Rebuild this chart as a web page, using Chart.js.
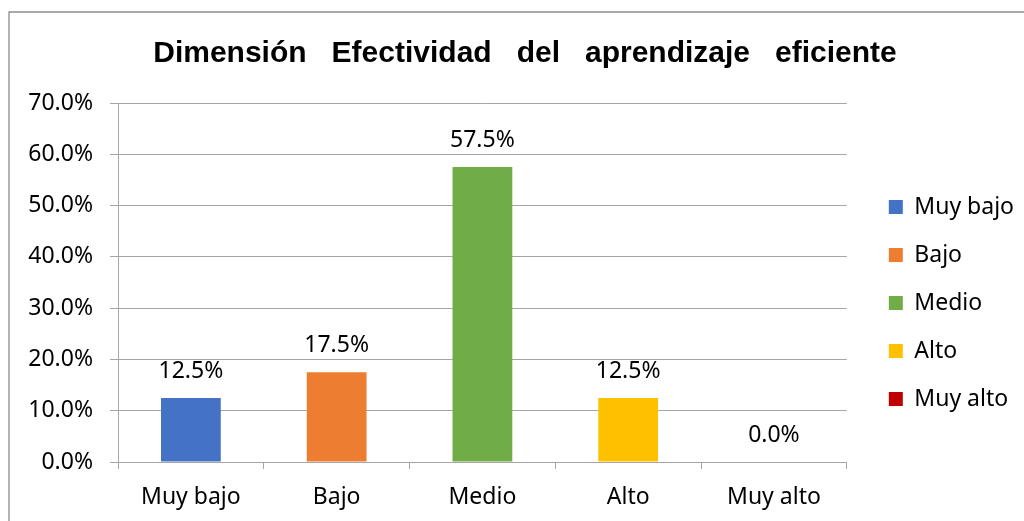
<!DOCTYPE html>
<html>
<head>
<meta charset="utf-8">
<script src="https://cdn.jsdelivr.net/npm/chart.js"></script>
<style>
  html, body { margin: 0; padding: 0; background: #fff; }
  #wrap { width: 1024px; height: 521px; position: relative; }
</style>
</head>
<body>
<div id="wrap"><canvas id="chart" width="1024" height="521"></canvas></div>
<script>
const titleText = 'Dimensión   Efectividad   del   aprendizaje   eficiente';
const categories = ['Muy bajo', 'Bajo', 'Medio', 'Alto', 'Muy alto'];
const values = [12.5, 17.5, 57.5, 12.5, 0.0];
const barColors = ['#4472C4', '#ED7D31', '#70AD47', '#FFC000', '#C00000'];
const yMin = 0;
const yMax = 70;
const yStep = 10;

const lineGray = '#a6a6a6';
const font = '"Noto Sans", sans-serif';

// frame + value labels over the bars
const frame = {
  id: 'frame',
  beforeDraw(chart) {
    const ctx = chart.ctx;
    ctx.save();
    ctx.fillStyle = '#fff';
    ctx.fillRect(0, 0, chart.width, chart.height);
    ctx.strokeStyle = '#8c8c8c';
    ctx.lineWidth = 1.3;
    ctx.beginPath();
    ctx.moveTo(9, chart.height);
    ctx.lineTo(9, 12);
    ctx.lineTo(chart.width, 12);
    ctx.stroke();
    ctx.restore();
  }
};

const valueLabels = {
  id: 'valueLabels',
  afterDatasetsDraw(chart) {
    const ctx = chart.ctx;
    const meta = chart.getDatasetMeta(0);
    ctx.save();
    ctx.font = '23px ' + font;
    ctx.fillStyle = '#000';
    ctx.textAlign = 'center';
    ctx.textBaseline = 'alphabetic';
    meta.data.forEach((bar, i) => {
      ctx.fillText(values[i].toFixed(1) + '%', bar.x, bar.y - 20);
    });
    ctx.restore();
  }
};

new Chart(document.getElementById('chart'), {
  type: 'bar',
  data: {
    labels: categories,
    datasets: [{
      data: values,
      backgroundColor: barColors,
      borderWidth: 0,
      categoryPercentage: 1,
      barPercentage: 0.41
    }]
  },
  options: {
    responsive: false,
    animation: false,
    devicePixelRatio: 1,
    layout: { padding: { left: 26, right: 0, top: 0, bottom: 9 } },
    plugins: {
      title: {
        display: true,
        text: titleText,
        color: '#000',
        font: { family: '"Liberation Sans", Arial, sans-serif', size: 30, weight: 'bold' },
        padding: { top: 36, bottom: 31 }
      },
      legend: {
        position: 'right',
        // empty legend title only pushes the items down
        title: { display: true, text: '', font: { size: 10 }, padding: { top: 82, bottom: 0 } },
        labels: {
          boxWidth: 14,
          boxHeight: 14,
          padding: 25,
          color: '#000',
          font: { family: font, size: 23 },
          generateLabels: () => categories.map((c, i) => ({
            text: c,
            fillStyle: barColors[i],
            strokeStyle: barColors[i],
            fontColor: '#000',
            lineWidth: 0,
            hidden: false,
            index: i
          }))
        }
      },
      tooltip: { enabled: false }
    },
    scales: {
      x: {
        grid: {
          offset: true,
          drawOnChartArea: false,
          drawTicks: true,
          tickLength: 7,
          color: lineGray
        },
        border: { display: true, color: lineGray },
        ticks: { color: '#000', font: { family: font, size: 23 }, padding: 15 },
        afterFit(s) { s.height = 50; }
      },
      y: {
        min: yMin,
        max: yMax,
        ticks: {
          stepSize: yStep,
          color: '#000',
          font: { family: font, size: 23 },
          padding: 17,
          callback: v => v.toFixed(1) + '%'
        },
        grid: { color: lineGray, tickLength: 8 },
        border: { display: true, color: lineGray },
        afterFit(s) { s.width = 92; }
      },
      gap: {
        type: 'linear',
        position: 'right',
        display: true,
        grid: { display: false },
        ticks: { display: false },
        border: { display: false },
        afterFit(s) { s.width = 17; }
      }
    }
  },
  plugins: [frame, valueLabels]
});
</script>
</body>
</html>
